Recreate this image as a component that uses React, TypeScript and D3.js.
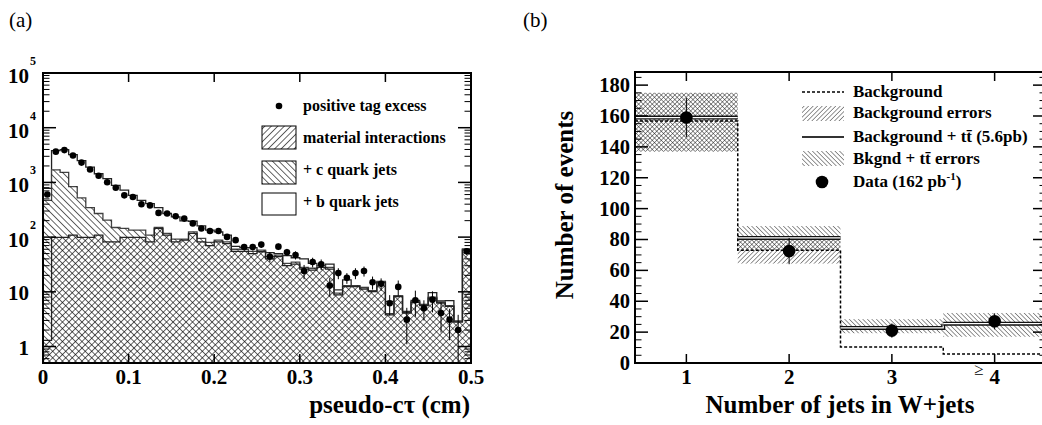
import * as d3 from 'd3'

const W = 1042
const H = 425
const FONT = "'Liberation Serif', 'Times New Roman', serif"

// ---- panel (a): pseudo-ctau, bins of 0.01 cm ----
const BIN_WIDTH = 0.01
const MATERIAL = [
  1.3, 99, 99, 109, 99, 99, 109, 82, 82, 99,
  99, 99, 82, 144, 109, 82, 88, 117, 82, 70,
  82, 76, 55, 55, 50, 54, 40, 44, 30, 32,
  26, 25, 28, 26, 8.8, 12.5, 12.5, 11.2, 10.1, 14.7,
  3.8, 8.2, 4.1, 6.4, 5.6, 7.7, 6.2, 5.4, 2.8, 58,
]
const C_STACK = [
  470, 1700, 1530, 840, 520, 347, 270, 204, 150, 144,
  134, 134, 109, 150, 117, 92, 92, 125, 95, 80,
  88, 82, 60, 60, 55, 58, 44, 47, 33, 35,
  28, 27, 30, 28, 9.5, 13, 13, 11.8, 10.5, 15.2,
  4, 8.5, 4.2, 6.6, 5.7, 8, 6.4, 5.6, 2.9, 60,
]
const B_STACK = [
  780, 3800, 3970, 3220, 2500, 1900, 1440, 1170, 880, 720,
  580, 470, 410, 347, 270, 234, 198, 195, 160, 134,
  125, 109, 68, 64, 64, 56, 52, 50, 46, 42,
  40, 33, 30, 32, 10.9, 16.5, 13, 12, 10.5, 15.5,
  6.7, 8.4, 4.4, 7, 5.9, 9.7, 6.8, 6.9, 2.9, 60,
]
const EXCESS = [
  600, 3650, 3900, 3100, 2300, 1720, 1320, 1010, 800, 580,
  540, 400, 380, 277, 270, 240, 218, 178, 144, 129,
  129, 101, 88, 66, 66, 73, 44, 67, 53, 47,
  24, 35, 32, 13, 22, 18, 22, 24, 15, 14,
  6.2, 12.3, 3.1, 7, 5, 7.2, 4.1, 3.1, 2.0, 55,
]
const EXCESS_ERR = [
  40, 80, 80, 70, 60, 50, 45, 40, 35, 30,
  28, 25, 24, 20, 20, 18, 17, 15, 13, 12,
  12, 11, 10, 9, 9, 9, 9, 9, 8, 8,
  7, 7, 7, 4.8, 5, 4, 5, 5, 4, 3.6,
  2.5, 3.8, 2, 3.5, 2, 3, 2.3, 1.8, 1.8, 8,
]

const A_X_TICKS = [0, 0.1, 0.2, 0.3, 0.4, 0.5]
const A_X_LABELS = ['0', '0.1', '0.2', '0.3', '0.4', '0.5']
const A_Y_DECADES = [1, 10, 100, 1000, 10000, 100000]
const A_Y_BASE = ['1', '10', '10', '10', '10', '10']
const A_Y_EXP = ['', '', '2', '3', '4', '5']

// ---- panel (b): jet multiplicity ----
const JETS = [1, 2, 3, 4]
const JET_LABELS = ['1', '2', '3', '4']
const BKG = [156.7, 73, 10.4, 5.8]
const BKG_TT = [159, 81, 22.7, 25.5]
const BKG_ERR_LO = [137, 64.4, 10.4, 5.8]
const BKG_ERR_HI = [175, 81.6, 10.4, 5.8]
const TT_ERR_LO = [137, 73, 19.3, 17]
const TT_ERR_HI = [175, 88.7, 28.4, 32.4]
const DATA = [159, 72.5, 21, 27]
const DATA_ERR = [12.6, 8.5, 4.6, 5.2]
const B_Y_MAJOR = [0, 20, 40, 60, 80, 100, 120, 140, 160, 180]

const A = { left: 43, right: 471, top: 73, bottom: 363 }
const B = { left: 635, right: 1046, top: 72, bottom: 363 }

function Hatch({ id, angle, size, width, color }: { id: string; angle: number; size: number; width: number; color: string }) {
  return (
    <pattern id={id} patternUnits="userSpaceOnUse" width={size} height={size} patternTransform={`rotate(${angle})`}>
      <line x1={0} y1={0} x2={0} y2={size} stroke={color} strokeWidth={width} />
    </pattern>
  )
}

export default function App() {
  // scales (a)
  const xa = d3.scaleLinear().domain([0, 0.5]).range([A.left, A.right])
  const ya = d3.scaleLog().domain([0.5, 1e5]).range([A.bottom, A.top])
  const yaMinor = ya.ticks().filter((t) => !A_Y_DECADES.includes(t))

  const stepPath = (vals: number[]) => {
    const pts: [number, number][] = [[xa(0), A.bottom]]
    vals.forEach((v, i) => {
      pts.push([xa(i * BIN_WIDTH), ya(v)], [xa((i + 1) * BIN_WIDTH), ya(v)])
    })
    pts.push([xa(vals.length * BIN_WIDTH), A.bottom])
    return d3.line()(pts) + 'Z'
  }

  // scales (b)
  const xb = d3.scaleLinear().domain([0.5, 4.5]).range([B.left, B.right])
  const yb = d3.scaleLinear().domain([0, 188.5]).range([B.bottom, B.top])
  const ybMinor = d3.range(0, 186, 5).filter((t) => t % 20 !== 0)

  const bkgPts: [number, number][] = []
  BKG.forEach((v, i) => {
    bkgPts.push([xb(JETS[i] - 0.5), yb(v)], [xb(JETS[i] + 0.5), yb(v)])
  })

  const bold = { fontFamily: FONT, fontWeight: 700 }

  return (
    <svg width={W} height={H} style={{ position: 'absolute', left: 0, top: 0, background: '#fff' }}>
      <defs>
        <Hatch id="aFwd" angle={45} size={4.6} width={1.2} color="#000" />
        <Hatch id="aBack" angle={-45} size={4.6} width={1.2} color="#000" />
        <Hatch id="bFwd" angle={45} size={3.2} width={0.9} color="#111" />
        <Hatch id="bBack" angle={-45} size={3.2} width={0.9} color="#111" />
        <clipPath id="clipA">
          <rect x={A.left} y={A.top} width={A.right - A.left} height={A.bottom - A.top} />
        </clipPath>
        <clipPath id="clipB">
          <rect x={B.left} y={B.top} width={B.right - B.left} height={B.bottom - B.top} />
        </clipPath>
      </defs>

      {/* ================= panel (a) ================= */}
      <text x={9} y={27} fontFamily={FONT} fontSize={21}>(a)</text>
      <g clipPath="url(#clipA)">
        <path d={stepPath(B_STACK)} fill="#fff" stroke="#222" strokeWidth={1.3} />
        <path d={stepPath(C_STACK)} fill="#fff" stroke="#444" strokeWidth={1.3} />
        <path d={stepPath(C_STACK)} fill="url(#aBack)" stroke="none" />
        <path d={stepPath(MATERIAL)} fill="url(#aFwd)" stroke="#222" strokeWidth={1.3} />
        {EXCESS.map((v, i) => {
          const cx = xa((i + 0.5) * BIN_WIDTH)
          return (
            <g key={i}>
              <line x1={cx} x2={cx} y1={ya(v + EXCESS_ERR[i])} y2={ya(Math.max(v - EXCESS_ERR[i], 0.3))} stroke="#000" strokeWidth={1} />
              <circle cx={cx} cy={ya(v)} r={3.3} fill="#000" />
            </g>
          )
        })}
      </g>

      {/* ticks (a) */}
      {A_X_TICKS.map((t) => (
        <g key={t}>
          <line x1={xa(t)} x2={xa(t)} y1={A.bottom} y2={A.bottom - 9} stroke="#000" strokeWidth={1.5} />
          <line x1={xa(t)} x2={xa(t)} y1={A.top} y2={A.top + 9} stroke="#000" strokeWidth={1.5} />
        </g>
      ))}
      {A_Y_DECADES.map((t) => (
        <g key={t}>
          <line x1={A.left} x2={A.left + 13} y1={ya(t)} y2={ya(t)} stroke="#000" strokeWidth={1.5} />
          <line x1={A.right} x2={A.right - 13} y1={ya(t)} y2={ya(t)} stroke="#000" strokeWidth={1.5} />
        </g>
      ))}
      {yaMinor.map((t) => (
        <g key={t}>
          <line x1={A.left} x2={A.left + 6.5} y1={ya(t)} y2={ya(t)} stroke="#000" strokeWidth={1} />
          <line x1={A.right} x2={A.right - 6.5} y1={ya(t)} y2={ya(t)} stroke="#000" strokeWidth={1} />
        </g>
      ))}
      <rect x={A.left} y={A.top} width={A.right - A.left} height={A.bottom - A.top} fill="none" stroke="#000" strokeWidth={2} />

      {/* tick labels (a) */}
      {A_X_TICKS.map((t, i) => (
        <text key={t} x={xa(t)} y={384} textAnchor="middle" fontSize={21} {...bold}>{A_X_LABELS[i]}</text>
      ))}
      {A_Y_DECADES.map((t, i) => (
        <g key={t}>
          <text x={29} y={ya(t) + (A_Y_EXP[i] ? 10 : 8)} textAnchor="end" fontSize={21} {...bold}>{A_Y_BASE[i]}</text>
          {A_Y_EXP[i] && (
            <text x={30} y={ya(t) - 8} fontSize={12} {...bold}>{A_Y_EXP[i]}</text>
          )}
        </g>
      ))}
      <text x={470} y={413} textAnchor="end" fontSize={25} {...bold}>pseudo-cτ (cm)</text>

      {/* legend (a) */}
      <circle cx={279} cy={106} r={3.3} fill="#000" />
      <rect x={262} y={126} width={34} height={23} fill="url(#aFwd)" stroke="#000" strokeWidth={1} />
      <rect x={262} y={161} width={34} height={23} fill="url(#aBack)" stroke="#000" strokeWidth={1} />
      <rect x={262} y={193} width={34} height={22} fill="#fff" stroke="#000" strokeWidth={1} />
      <text x={303} y={111} fontSize={16} {...bold}>positive tag excess</text>
      <text x={303} y={142.5} fontSize={16} {...bold}>material interactions</text>
      <text x={303} y={175} fontSize={16} {...bold}>+ c quark jets</text>
      <text x={303} y={206.5} fontSize={16} {...bold}>+ b quark jets</text>

      {/* ================= panel (b) ================= */}
      <text x={523} y={27} fontFamily={FONT} fontSize={21}>(b)</text>
      <g clipPath="url(#clipB)">
        {JETS.map((j, i) => (
          <rect key={'be' + j} x={xb(j - 0.5)} width={xb(j + 0.5) - xb(j - 0.5)} y={yb(BKG_ERR_HI[i])} height={yb(BKG_ERR_LO[i]) - yb(BKG_ERR_HI[i])} fill="url(#bFwd)" />
        ))}
        {JETS.map((j, i) => (
          <rect key={'te' + j} x={xb(j - 0.5)} width={xb(j + 0.5) - xb(j - 0.5)} y={yb(TT_ERR_HI[i])} height={yb(TT_ERR_LO[i]) - yb(TT_ERR_HI[i])} fill="url(#bBack)" />
        ))}
        <path d={d3.line()(bkgPts) ?? ''} fill="none" stroke="#000" strokeWidth={1.5} strokeDasharray="3,2" />
        {JETS.map((j, i) => {
          const next = BKG_TT[i + 1]
          const joins = next !== undefined && Math.abs(next - BKG_TT[i]) < 10
          const x2 = xb(j + 0.5)
          const d = joins
            ? `M${xb(j - 0.5)},${yb(BKG_TT[i])}H${x2}V${yb(next)}`
            : `M${xb(j - 0.5)},${yb(BKG_TT[i])}H${x2}`
          return (
            <g key={'tt' + j}>
              <path d={d} fill="none" stroke="#111" strokeWidth={4} />
              <path d={d} fill="none" stroke="#fff" strokeWidth={1.2} />
            </g>
          )
        })}
        {JETS.map((j, i) => (
          <g key={'d' + j}>
            <line x1={xb(j)} x2={xb(j)} y1={yb(DATA[i] + DATA_ERR[i])} y2={yb(DATA[i] - DATA_ERR[i])} stroke="#000" strokeWidth={1} />
            <circle cx={xb(j)} cy={yb(DATA[i])} r={6.3} fill="#000" />
          </g>
        ))}
      </g>

      {/* ticks (b) */}
      {JETS.map((t) => (
        <g key={t}>
          <line x1={xb(t)} x2={xb(t)} y1={B.bottom} y2={B.bottom - 9} stroke="#000" strokeWidth={1.5} />
          <line x1={xb(t)} x2={xb(t)} y1={B.top} y2={B.top + 9} stroke="#000" strokeWidth={1.5} />
        </g>
      ))}
      {B_Y_MAJOR.map((t) => (
        <g key={t}>
          <line x1={B.left} x2={B.left + 13} y1={yb(t)} y2={yb(t)} stroke="#000" strokeWidth={1.5} />
          <line x1={B.right} x2={B.right - 13} y1={yb(t)} y2={yb(t)} stroke="#000" strokeWidth={1.5} />
        </g>
      ))}
      {ybMinor.map((t) => (
        <g key={t}>
          <line x1={B.left} x2={B.left + 6.5} y1={yb(t)} y2={yb(t)} stroke="#000" strokeWidth={1} />
          <line x1={B.right} x2={B.right - 6.5} y1={yb(t)} y2={yb(t)} stroke="#000" strokeWidth={1} />
        </g>
      ))}
      <rect x={B.left} y={B.top} width={B.right - B.left} height={B.bottom - B.top} fill="none" stroke="#000" strokeWidth={2} />

      {/* tick labels (b) */}
      {JETS.map((t, i) => (
        <text key={t} x={xb(t)} y={384} textAnchor="middle" fontSize={21} {...bold}>{JET_LABELS[i]}</text>
      ))}
      <text x={xb(JETS[3]) - 16} y={375} textAnchor="middle" fontSize={17} fontFamily={FONT}>≥</text>
      {B_Y_MAJOR.map((t) => (
        <text key={t} x={630} y={yb(t) + 7} textAnchor="end" fontSize={20.5} {...bold}>{t}</text>
      ))}
      <text x={840} y={413} textAnchor="middle" fontSize={25} {...bold}>Number of jets in W+jets</text>
      <text transform="translate(573,205) rotate(-90)" textAnchor="middle" fontSize={25} {...bold}>Number of events</text>

      {/* legend (b) */}
      <line x1={802} x2={844} y1={92} y2={92} stroke="#000" strokeWidth={1.3} strokeDasharray="3,2" />
      <rect x={802} y={106} width={42} height={15} fill="url(#bFwd)" />
      <line x1={802} x2={844} y1={137} y2={137} stroke="#333" strokeWidth={2} />
      <rect x={802} y={151} width={42} height={15} fill="url(#bBack)" />
      <circle cx={822} cy={182} r={6.3} fill="#000" />
      <text x={853} y={97} fontSize={17} {...bold}>Background</text>
      <text x={853} y={118} fontSize={17} {...bold}>Background errors</text>
      <text x={853} y={142} fontSize={17} {...bold}>Background + tt̄ (5.6pb)</text>
      <text x={853} y={164} fontSize={17} {...bold}>Bkgnd + tt̄ errors</text>
      <text x={853} y={187} fontSize={17} {...bold}>
        Data (162 pb<tspan dy={-7} fontSize={11}>-1</tspan><tspan dy={7}>)</tspan>
      </text>
    </svg>
  )
}
